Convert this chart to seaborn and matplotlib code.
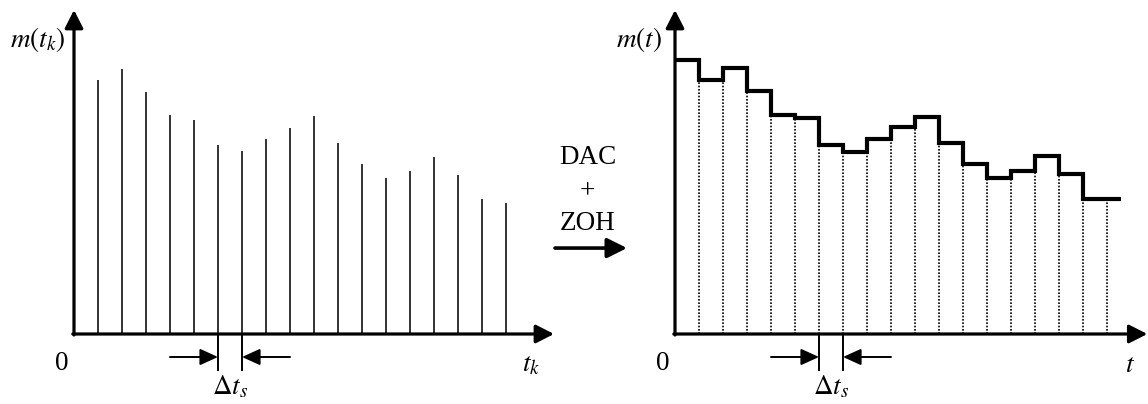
import numpy as np
import pandas as pd
import seaborn as sns
import matplotlib.pyplot as plt

# sample instants (in units of the sampling period)
sample_t = [1, 2, 3, 4, 5, 6, 7, 8, 9, 10, 11, 12, 13, 14, 15, 16, 17, 18]
# sampled values m(t_k)
m_k = [2.54, 2.65, 2.42, 2.19, 2.14, 1.89, 1.83, 1.95, 2.06,
       2.18, 1.91, 1.70, 1.56, 1.63, 1.77, 1.59, 1.35, 1.31]
# zero-order-hold output: step edges and held levels
zoh_edges = [0, 1, 2, 3, 4, 5, 6, 7, 8, 9, 10, 11, 12, 13, 14, 15, 16, 17, 18.6]
zoh_levels = [2.74, 2.54, 2.66, 2.43, 2.19, 2.16, 1.89, 1.82, 1.95,
              2.07, 2.17, 1.91, 1.70, 1.56, 1.63, 1.78, 1.60, 1.35]

sns.set_theme(style="white")
plt.rcParams['font.family'] = ['Liberation Serif', 'DejaVu Serif']
plt.rcParams['mathtext.fontset'] = 'stix'
plt.rcParams['text.color'] = 'black'

fig = plt.figure(figsize=(11.48, 4.04), dpi=100)
ax1 = fig.add_axes([0, 0, 0.5, 1])
ax2 = fig.add_axes([0.5, 0, 0.5, 1])
ax1.set_xlim(-74 / 24, 500 / 24)
ax2.set_xlim(-101 / 24, 473 / 24)
for ax in (ax1, ax2):
    ax.set_ylim(-0.70, 3.34)
    ax.set_axis_off()
    ax.patch.set_alpha(0)

FS = 19.5
axis_arrow = dict(arrowstyle='-|>,head_length=0.55,head_width=0.28', lw=2.3,
                  color='black', shrinkA=0, shrinkB=0, mutation_scale=20)
small_arrow = dict(arrowstyle='-|>,head_length=0.55,head_width=0.25', lw=1.4,
                   color='black', shrinkA=0, shrinkB=0, mutation_scale=20)


def draw_axes(ax, x_end, ylabel, xlabel, xlabel_x):
    ax.annotate('', xy=(0, 3.24), xytext=(0, -0.01), arrowprops=axis_arrow)
    ax.annotate('', xy=(x_end, 0), xytext=(-0.05, 0), arrowprops=axis_arrow)
    ax.text(-1.52, 2.94, ylabel, fontsize=FS, ha='center', va='center', color='black')
    ax.text(-0.52, -0.29, '0', fontsize=FS, ha='center', va='center', color='black')
    ax.text(xlabel_x, -0.31, xlabel, fontsize=FS, ha='center', va='center', color='black')
    # sampling interval marker
    ax.vlines([6, 7], -0.37, 0, color='black', lw=1.4)
    ax.annotate('', xy=(6, -0.23), xytext=(4.0, -0.23), arrowprops=small_arrow)
    ax.annotate('', xy=(7, -0.23), xytext=(9.0, -0.23), arrowprops=small_arrow)
    ax.text(6.52, -0.53, r'$\Delta t_s$', fontsize=FS, ha='center', va='center', color='black')


# left: sampled signal
ax1.vlines(sample_t, 0, m_k, color='#333333', lw=1.4)
draw_axes(ax1, 20.0, r'$m(t_k)$', r'$t_k$', 19.04)

# right: DAC + ZOH output
df = pd.DataFrame({'t': zoh_edges, 'm': zoh_levels + [zoh_levels[-1]]})
sns.lineplot(data=df, x='t', y='m', ax=ax2, color='black', lw=3.0,
             drawstyle='steps-post', estimator=None, sort=False,
             solid_joinstyle='miter', solid_capstyle='butt')
lv = np.array(zoh_levels)
dot_tops = np.minimum(lv[:-1], lv[1:]).tolist() + [lv[-1]]
ax2.vlines(sample_t, 0, dot_tops, color='black', lw=1.2, linestyles=(0, (1, 1)))
draw_axes(ax2, 19.68, r'$m(t)$', r'$t$', 18.96)

# conversion arrow between panels
for label, y in (('DAC', 0.611), ('+', 0.525), ('ZOH', 0.448)):
    fig.text(0.512, y, label, fontsize=FS, ha='center', va='center', color='black')
ax1.annotate('', xy=(627 / 1148, 0.386), xytext=(555 / 1148, 0.386),
             xycoords='figure fraction', textcoords='figure fraction',
             arrowprops=dict(arrowstyle='-|>,head_length=0.6,head_width=0.3',
                             lw=2.6, color='black', shrinkA=0, shrinkB=0,
                             mutation_scale=20),
             annotation_clip=False)

fig.savefig('out.png', dpi=100)
